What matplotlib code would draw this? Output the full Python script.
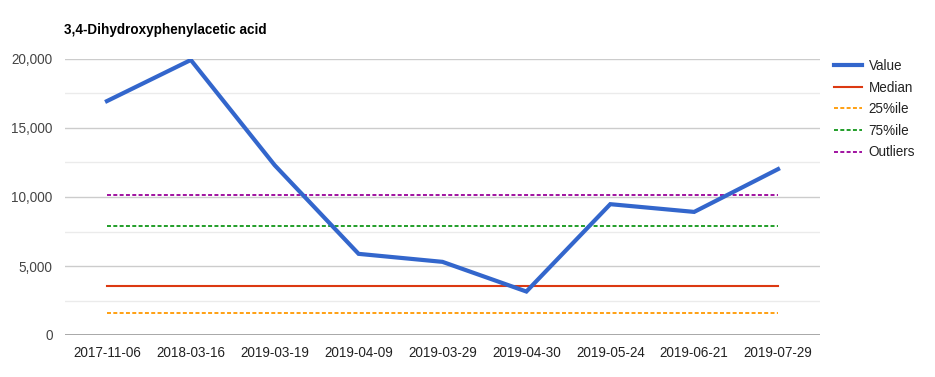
import numpy as np
import matplotlib
matplotlib.use("Agg")
from matplotlib import pyplot as plt

plt.rcParams['font.family'] = ['Liberation Sans', 'DejaVu Sans']

dates = ["2017-11-06", "2018-03-16", "2019-03-19", "2019-04-09", "2019-03-29",
         "2019-04-30", "2019-05-24", "2019-06-21", "2019-07-29"]
values = [16950, 19930, 12300, 5880, 5300, 3150, 9480, 8920, 12020]
median = 3560
p25 = 1590
p75 = 7920
outliers = 10130

fig = plt.figure(figsize=(9.35, 3.77), dpi=100)
ax = fig.add_axes([65/935, 42/377, 755/935, 276/377])

x = np.arange(len(dates))
n = len(dates)
ax.plot(x, values, color="#3366cc", lw=3.0, label="Value", solid_joinstyle="miter", zorder=5)
ax.plot(x, [median]*n, color="#dc3912", lw=1.5, label="Median", zorder=4)
ax.plot(x, [p25]*n, color="#ff9900", lw=1.3, ls=(0, (2.2, 1.3)), label="25%ile", zorder=4)
ax.plot(x, [p75]*n, color="#109618", lw=1.3, ls=(0, (2.2, 1.3)), label="75%ile", zorder=4)
ax.plot(x, [outliers]*n, color="#990099", lw=1.3, ls=(0, (2.2, 1.3)), label="Outliers", zorder=4)

ax.set_xlim(-0.5, n - 0.5)
ax.set_ylim(0, 20000)
ax.set_xticks(x)
ax.set_xticklabels(dates)
ax.set_yticks([0, 5000, 10000, 15000, 20000])
ax.set_yticklabels(["0", "5,000", "10,000", "15,000", "20,000"])
for v in [2500, 7500, 12500, 17500]:
    ax.axhline(v, color="#ebebeb", lw=1, zorder=1)
for v in [5000, 10000, 15000, 20000]:
    ax.axhline(v, color="#cccccc", lw=1, zorder=1)
ax.axhline(0, color="#999999", lw=1.2, zorder=2)

for s in ax.spines.values():
    s.set_visible(False)
ax.tick_params(length=0, labelsize=9.75, colors="#222222")
ax.tick_params(axis="y", pad=9, labelcolor="#444444")
ax.tick_params(axis="x", pad=8)

fig.text(64/935, 1 - 30/377, "3,4-Dihydroxyphenylacetic acid", fontsize=9.75,
         fontweight="bold", va="center", ha="left", color="#000000")

leg = ax.legend(loc="upper left", bbox_to_anchor=(834/935, 1 - 59/377),
                bbox_transform=fig.transFigure, frameon=False, fontsize=9.75,
                handlelength=2.1, handletextpad=0.45, labelspacing=0.56,
                borderpad=0, borderaxespad=0)
for t in leg.get_texts():
    t.set_color("#222222")

fig.savefig("out.png", dpi=100)
